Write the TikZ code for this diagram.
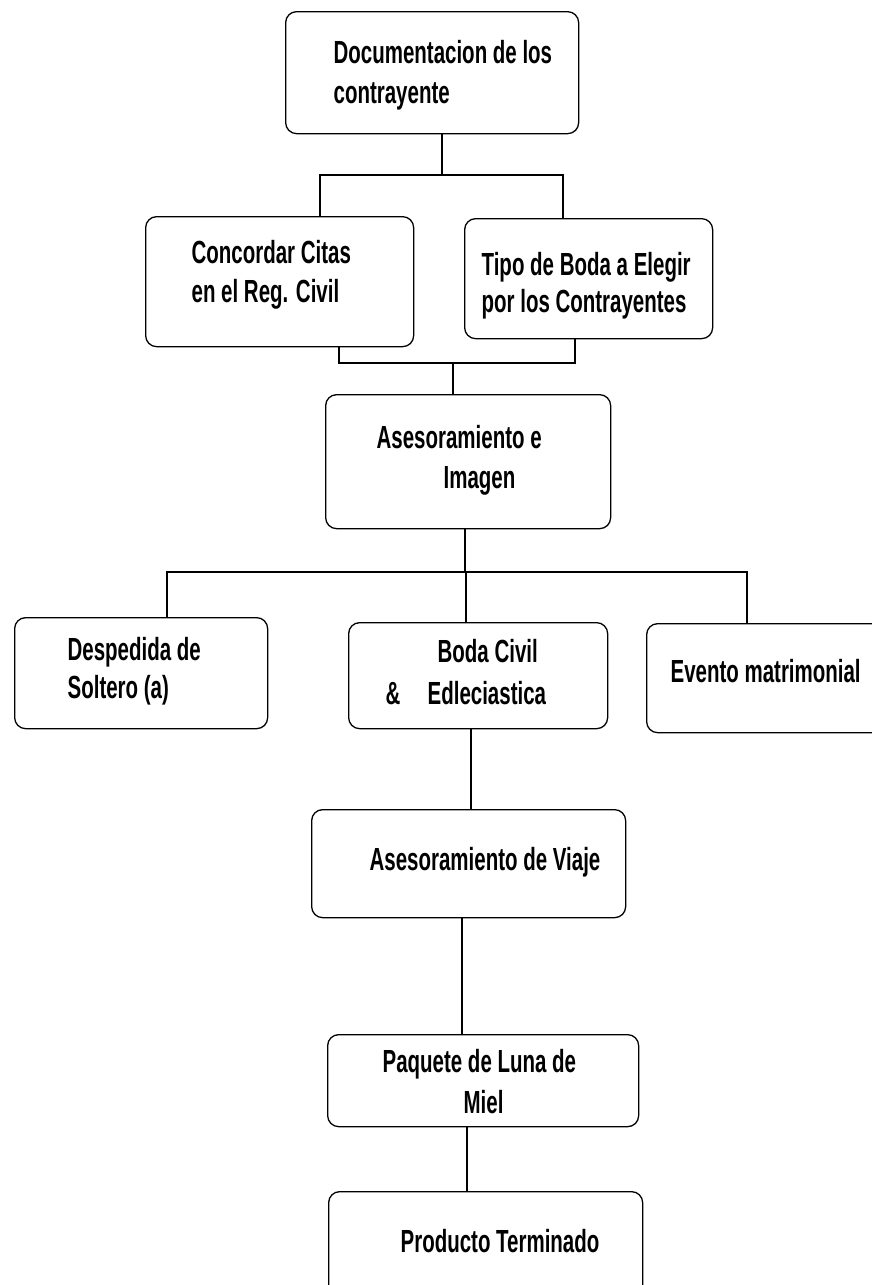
\documentclass[tikz,border=0pt]{standalone}
\usepackage{fontspec}
\setmainfont[FakeStretch=0.64]{Liberation Sans}
\begin{document}
\begin{tikzpicture}[x=1pt,y=-1pt,
  line width=1.3pt,
  box/.style={draw=black, rounded corners=11pt, line width=1.3pt, inner sep=0pt, anchor=north west},
  lbl/.style={inner sep=0pt, anchor=base west, font=\fontsize{32}{38}\selectfont\bfseries},
  wire/.style={draw=black, line width=1.3pt}]
\useasboundingbox (0,0) rectangle (872,1285);
\clip (0,0) rectangle (872,1285);
% boxes
\node[box, minimum width=293pt, minimum height=122pt] (doc) at (285,11) {};
\node[box, minimum width=268pt, minimum height=130pt] (conc) at (145,216) {};
\node[box, minimum width=248pt, minimum height=120pt] (tipo) at (464,218) {};
\node[box, minimum width=285pt, minimum height=134pt] (ase) at (325,394) {};
\node[box, minimum width=253pt, minimum height=111pt] (desp) at (14,617) {};
\node[box, minimum width=259pt, minimum height=106pt] (boda) at (348,622) {};
\node[box, minimum width=270pt, minimum height=109pt] (evt) at (646,623) {};
\node[box, minimum width=314pt, minimum height=108pt] (viaje) at (311,809) {};
\node[box, minimum width=311pt, minimum height=92pt] (paq) at (327,1034) {};
\node[box, minimum width=314pt, minimum height=130pt] (prod) at (328,1191) {};
% texts
\node[lbl] (doc1) at (333,63) {Documentacion de los};
\node[lbl] (doc2) at (333,103) {contrayente};
\node[lbl] (conc1) at (191,263) {Concordar Citas};
\node[lbl] (conc2) at (191,302) {en el Reg. Civil};
\node[lbl] (tipo1) at (481,275) {Tipo de Boda a Elegir};
\node[lbl] (tipo2) at (481,312) {por los Contrayentes};
\node[lbl] (ase1) at (376,448) {Asesoramiento e};
\node[lbl] (ase2) at (443,488) {Imagen};
\node[lbl] (desp1) at (67,660) {Despedida de};
\node[lbl] (desp2) at (67,698) {Soltero (a)};
\node[lbl] (boda1) at (437,662) {Boda Civil};
\node[lbl] (boda2) at (385,704) {\&};
\node[lbl] (boda3) at (427,704) {Edleciastica};
\node[lbl] (evt1) at (670,682) {Evento matrimonial};
\node[lbl] (viaje1) at (369,870) {Asesoramiento de Viaje};
\node[lbl] (paq1) at (382,1072) {Paquete de Luna de};
\node[lbl] (paq2) at (463,1113) {Miel};
\node[lbl] (prod1) at (400,1252) {Producto Terminado};
% junction coordinates
\coordinate (j1) at (442,175);
\coordinate (j1l) at (320,175);
\coordinate (j1r) at (563,175);
\coordinate (j2l) at (339,363);
\coordinate (j2r) at (575,363);
\coordinate (j2) at (453,363);
\coordinate (j3) at (465,572);
\coordinate (j3l) at (167,572);
\coordinate (j3m) at (466,572);
\coordinate (j3r) at (747,572);
\coordinate (xv1) at (471,0);
\coordinate (xv2) at (462,0);
\coordinate (xv3) at (467,0);
% connectors
\draw[wire] (doc.south -| j1) -- (j1);
\draw[wire] (conc.north -| j1l) -- (j1l) -- (j1r) -- (tipo.north -| j1r);
\draw[wire] (conc.south -| j2l) -- (j2l) -- (j2r) -- (tipo.south -| j2r);
\draw[wire] (j2) -- (ase.north -| j2);
\draw[wire] (ase.south -| j3) -- (j3);
\draw[wire] (desp.north -| j3l) -- (j3l) -- (j3r) -- (evt.north -| j3r);
\draw[wire] (j3m) -- (boda.north -| j3m);
\draw[wire] (boda.south -| xv1) -- (viaje.north -| xv1);
\draw[wire] (viaje.south -| xv2) -- (paq.north -| xv2);
\draw[wire] (paq.south -| xv3) -- (prod.north -| xv3);
\end{tikzpicture}
\end{document}
